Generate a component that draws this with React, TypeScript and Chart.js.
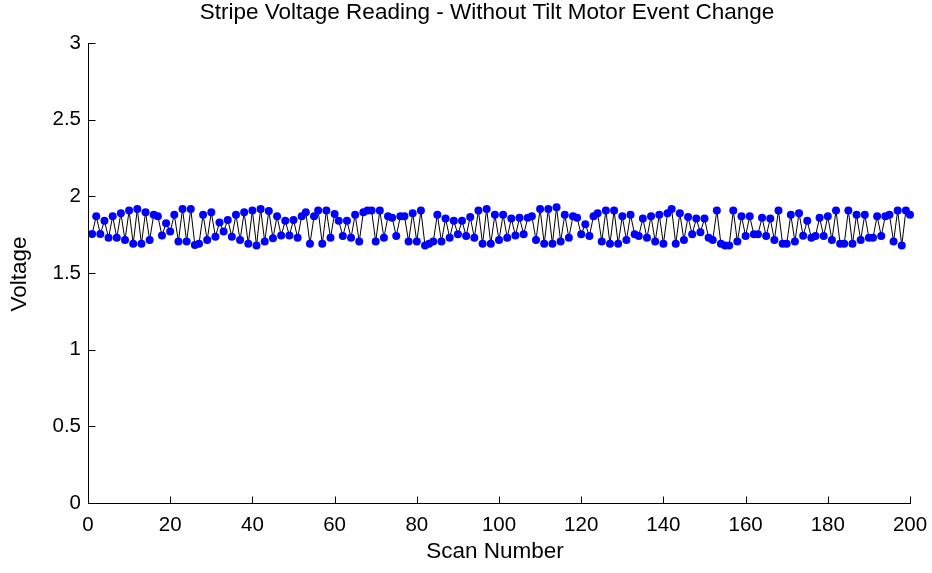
import React, { useEffect, useRef } from "react";
import { Chart, registerables } from "chart.js";

Chart.register(...registerables);

const TITLE = "Stripe Voltage Reading - Without Tilt Motor Event Change";
const X_LABEL = "Scan Number";
const Y_LABEL = "Voltage";

const X_TICKS = [0, 20, 40, 60, 80, 100, 120, 140, 160, 180, 200];
const Y_TICKS = [0, 0.5, 1, 1.5, 2, 2.5, 3];

const VOLTAGE = [
  1.755, 1.87, 1.755, 1.84, 1.73, 1.87, 1.73, 1.89, 1.715, 1.907,
  1.69, 1.918, 1.69, 1.896, 1.715, 1.88, 1.87, 1.744, 1.824, 1.77,
  1.88, 1.705, 1.918, 1.705, 1.918, 1.683, 1.69, 1.88, 1.715, 1.896,
  1.737, 1.83, 1.77, 1.846, 1.737, 1.88, 1.715, 1.896, 1.69, 1.907,
  1.679, 1.918, 1.705, 1.905, 1.726, 1.87, 1.744, 1.84, 1.744, 1.846,
  1.73, 1.87, 1.896, 1.69, 1.87, 1.907, 1.69, 1.907, 1.73, 1.885,
  1.84, 1.742, 1.84, 1.73, 1.88, 1.705, 1.896, 1.907, 1.907, 1.705,
  1.907, 1.73, 1.87, 1.86, 1.742, 1.87, 1.87, 1.705, 1.89, 1.705,
  1.907, 1.679, 1.69, 1.705, 1.88, 1.705, 1.855, 1.73, 1.84, 1.752,
  1.84, 1.742, 1.866, 1.73, 1.907, 1.69, 1.918, 1.69, 1.88, 1.715,
  1.88, 1.73, 1.855, 1.744, 1.86, 1.752, 1.86, 1.87, 1.715, 1.918,
  1.69, 1.918, 1.69, 1.929, 1.705, 1.88, 1.73, 1.87, 1.86, 1.752,
  1.818, 1.742, 1.87, 1.89, 1.705, 1.907, 1.69, 1.907, 1.69, 1.87,
  1.715, 1.88, 1.752, 1.742, 1.855, 1.73, 1.87, 1.705, 1.88, 1.69,
  1.89, 1.918, 1.69, 1.89, 1.715, 1.866, 1.752, 1.855, 1.765, 1.855,
  1.73, 1.715, 1.907, 1.69, 1.68, 1.679, 1.907, 1.705, 1.87, 1.742,
  1.87, 1.752, 1.752, 1.86, 1.742, 1.855, 1.715, 1.907, 1.69, 1.69,
  1.88, 1.705, 1.89, 1.743, 1.84, 1.73, 1.742, 1.86, 1.742, 1.87,
  1.715, 1.907, 1.69, 1.69, 1.907, 1.69, 1.88, 1.715, 1.88, 1.73,
  1.73, 1.87, 1.742, 1.87, 1.88, 1.705, 1.907, 1.679, 1.907, 1.88,
];

const SCAN = VOLTAGE.map((_, i) => i + 1);

const FONT = "'Liberation Sans', Arial, Helvetica, sans-serif";

const decorPlugin = {
  id: "matlabDecor",
  afterDraw(chart: any) {
    const { ctx, chartArea } = chart;
    const xs = chart.scales.x;
    const ys = chart.scales.y;
    const L = Math.round(chartArea.left) + 0.5;
    const B = Math.round(chartArea.bottom) + 0.5;
    const T = Math.round(chartArea.top);
    const xEnd = xs.getPixelForValue(200) + 1;
    ctx.save();
    ctx.strokeStyle = "#000";
    ctx.lineWidth = 1;
    ctx.beginPath();
    ctx.moveTo(L, T);
    ctx.lineTo(L, B);
    ctx.lineTo(xEnd, B);
    ctx.stroke();
    // inward ticks
    ctx.beginPath();
    X_TICKS.forEach((v) => {
      const px = Math.round(xs.getPixelForValue(v)) + 0.5;
      ctx.moveTo(px, B);
      ctx.lineTo(px, B - 7);
    });
    Y_TICKS.forEach((v) => {
      const py = Math.round(ys.getPixelForValue(v)) + 0.5;
      ctx.moveTo(L, py);
      ctx.lineTo(L + 7, py);
    });
    ctx.stroke();
    // texts
    ctx.fillStyle = "#000";
    ctx.textAlign = "center";
    ctx.textBaseline = "middle";
    ctx.font = `22.5px ${FONT}`;
    ctx.fillText(TITLE, 487, 13);
    ctx.font = `22.5px ${FONT}`;
    ctx.fillText(X_LABEL, 495, 552);
    ctx.translate(20, 274);
    ctx.rotate(-Math.PI / 2);
    ctx.fillText(Y_LABEL, 0, 0);
    ctx.restore();
  },
};

export default function App() {
  const ref = useRef<HTMLCanvasElement | null>(null);

  useEffect(() => {
    document.body.style.margin = "0";
    const canvas = ref.current;
    if (!canvas) return;
    const chart = new Chart(canvas, {
      type: "line",
      data: {
        datasets: [
          {
            data: SCAN.map((x, i) => ({ x, y: VOLTAGE[i] })),
            borderColor: "#000000",
            borderWidth: 1,
            pointBackgroundColor: "#0000ff",
            pointBorderColor: "#0000ff",
            pointBorderWidth: 0,
            pointRadius: 4,
            tension: 0,
            clip: false as any,
          },
        ],
      },
      options: {
        responsive: false,
        animation: false,
        devicePixelRatio: 1,
        layout: { padding: { left: 0, top: 43, right: 22, bottom: 0 } },
        plugins: {
          legend: { display: false },
          tooltip: { enabled: false },
          title: { display: false },
        },
        scales: {
          x: {
            type: "linear",
            min: 0,
            max: 200,
            afterFit: (s: any) => {
              s.height = 70;
              s.paddingLeft = 0;
              s.paddingRight = 0;
            },
            afterBuildTicks: (s: any) => {
              s.ticks = X_TICKS.map((v) => ({ value: v }));
            },
            grid: { display: false, drawTicks: false },
            border: { display: false },
            ticks: {
              color: "#000",
              padding: 10,
              maxRotation: 0,
              autoSkip: false,
              font: { family: FONT, size: 20.5 },
            },
          },
          y: {
            type: "linear",
            min: 0,
            max: 3,
            afterFit: (s: any) => {
              s.width = 88;
              s.paddingTop = 0;
              s.paddingBottom = 0;
            },
            afterBuildTicks: (s: any) => {
              s.ticks = Y_TICKS.map((v) => ({ value: v }));
            },
            grid: { display: false, drawTicks: false },
            border: { display: false },
            ticks: {
              color: "#000",
              padding: 7,
              autoSkip: false,
              font: { family: FONT, size: 20.5 },
              callback: (v: any) => String(v),
            },
          },
        },
      },
      plugins: [decorPlugin],
    });
    return () => chart.destroy();
  }, []);

  return (
    <canvas
      ref={ref}
      width={932}
      height={573}
      style={{ display: "block", position: "fixed", left: 0, top: 0, width: 932, height: 573 }}
    />
  );
}
